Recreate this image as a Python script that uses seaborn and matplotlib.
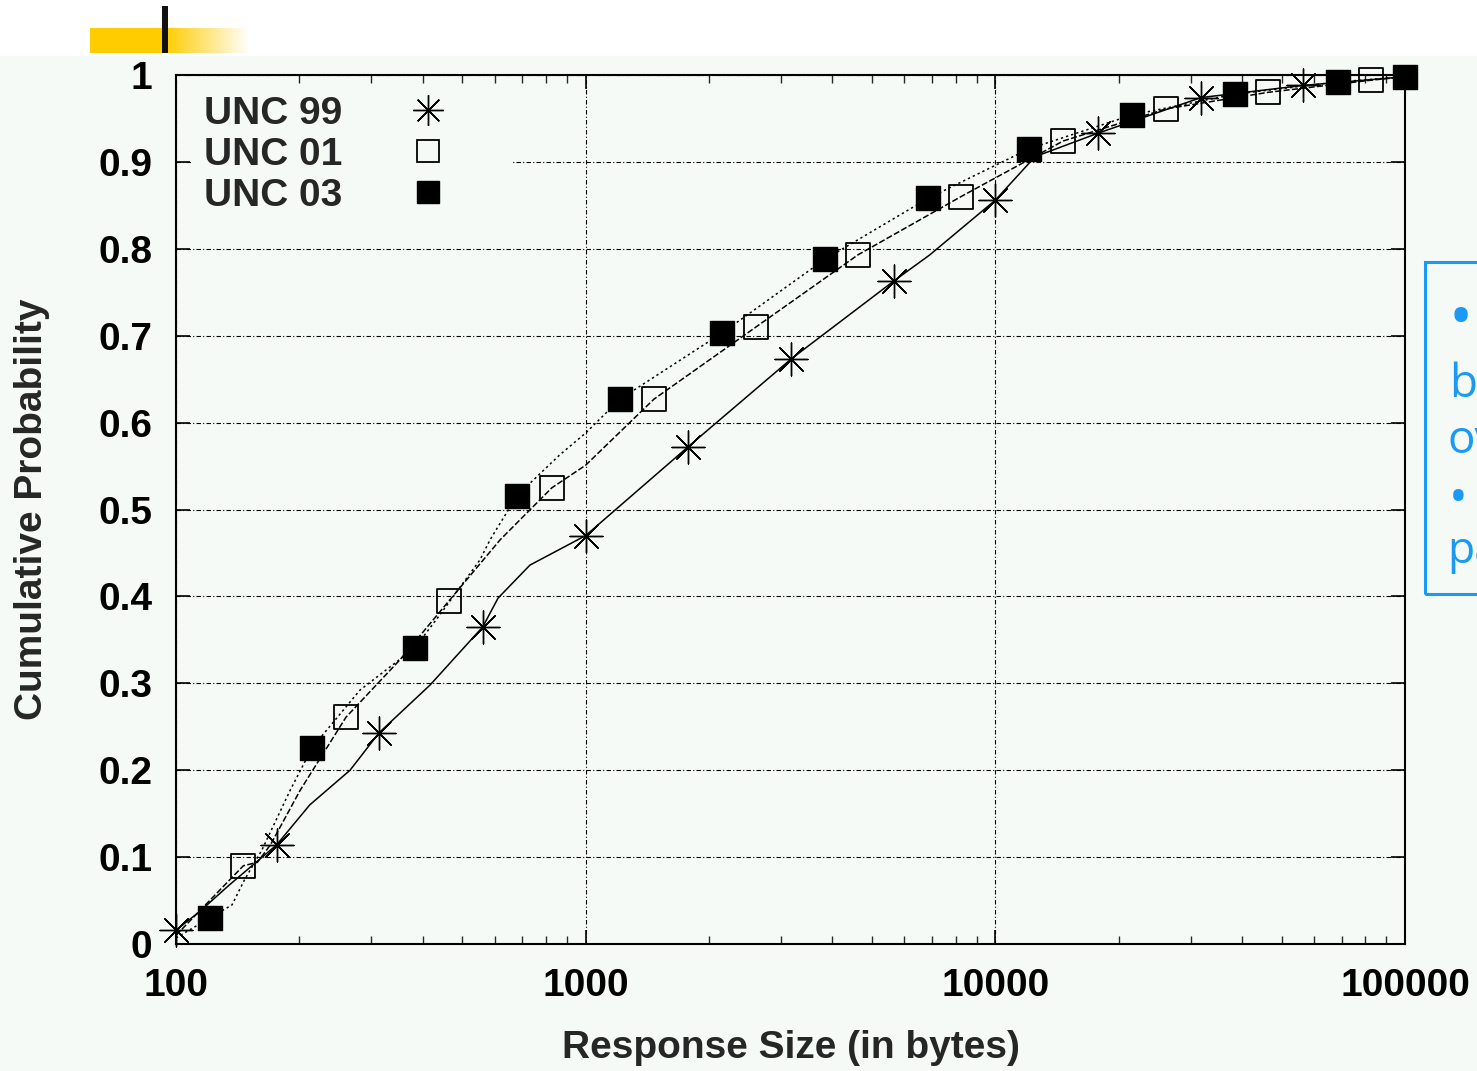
import numpy as np
import pandas as pd
import matplotlib
matplotlib.use("Agg")
import matplotlib.pyplot as plt
from matplotlib.lines import Line2D
from matplotlib.patches import Rectangle
import seaborn as sns

# CDF curves (response size in bytes, cumulative probability)
sizes_99 = [100, 114, 135, 176, 212, 266, 313, 417, 561, 611, 731, 1000, 1777, 3170,
            5655, 6918, 10000, 12500, 17800, 31760, 56360, 100000]
cdf_99 = [0.016, 0.037, 0.068, 0.114, 0.160, 0.200, 0.243, 0.298, 0.365, 0.398, 0.436,
          0.470, 0.572, 0.673, 0.763, 0.793, 0.856, 0.906, 0.933, 0.974, 0.988, 0.998]

sizes_01 = [100, 146, 158, 170, 201, 260, 352, 464, 618, 827, 1000, 1468, 2604, 4619,
            8241, 14630, 26090, 46240, 82550, 100000]
cdf_01 = [0.010, 0.090, 0.094, 0.114, 0.177, 0.261, 0.327, 0.395, 0.465, 0.525, 0.551,
          0.627, 0.710, 0.793, 0.860, 0.924, 0.961, 0.980, 0.994, 0.998]

sizes_03 = [100, 121, 137, 147, 162, 190, 215, 281, 383, 441, 552, 584, 680, 865, 1000,
            1213, 2151, 3838, 6847, 12080, 21550, 38440, 68560, 100000]
cdf_03 = [0.007, 0.030, 0.045, 0.074, 0.108, 0.177, 0.226, 0.292, 0.341, 0.379, 0.442,
          0.465, 0.516, 0.563, 0.588, 0.627, 0.703, 0.788, 0.858, 0.915, 0.954, 0.978,
          0.992, 0.998]

# point markers along each curve
mk_sizes_99 = [100, 176, 313, 561, 1000, 1777, 3170, 5655, 10000, 17800, 31760, 56360]
mk_cdf_99 = [0.016, 0.114, 0.243, 0.365, 0.470, 0.572, 0.673, 0.763, 0.856, 0.933, 0.974, 0.988]

mk_sizes_01 = [146, 260, 464, 827, 1468, 2604, 4619, 8241, 14630, 26090, 46240, 82550]
mk_cdf_01 = [0.090, 0.261, 0.395, 0.525, 0.627, 0.710, 0.793, 0.860, 0.924, 0.961, 0.980, 0.994]

mk_sizes_03 = [121, 215, 383, 680, 1213, 2151, 3838, 6847, 12080, 21550, 38440, 68560, 100000]
mk_cdf_03 = [0.030, 0.226, 0.341, 0.516, 0.627, 0.703, 0.788, 0.858, 0.915, 0.954, 0.978,
             0.992, 0.998]

labels = ["UNC 99", "UNC 01", "UNC 03"]
x_ticks = [100, 1000, 10000, 100000]
y_ticks = [0, 0.1, 0.2, 0.3, 0.4, 0.5, 0.6, 0.7, 0.8, 0.9, 1]
y_tick_labels = ["0", "0.1", "0.2", "0.3", "0.4", "0.5", "0.6", "0.7", "0.8", "0.9", "1"]

BG = "#f5faf7"
BLUE = "#1a9af2"
W, H = 1477, 1071
FS = 28

sns.set_style("ticks")
plt.rcParams["font.family"] = ["Liberation Sans", "DejaVu Sans"]
plt.rcParams["font.weight"] = "bold"
plt.rcParams["axes.labelweight"] = "bold"


def fx(px):
    return px / W


def fy(py):
    return 1 - py / H


fig = plt.figure(figsize=(W / 100, H / 100), dpi=100, facecolor=BG)

# slide header strip
fig.add_artist(Rectangle((0, fy(56)), 1, 1 - fy(56), transform=fig.transFigure,
                         facecolor="white", edgecolor="none", zorder=0))
grad = np.zeros((1, 160, 4))
grad[..., 0] = 1.0
grad[..., 1] = 0.8
alpha = np.ones(160)
alpha[75:] = np.linspace(1, 0, 85)
grad[..., 3] = alpha
gax = fig.add_axes([fx(90), fy(53), 160 / W, 25 / H])
gax.imshow(grad, aspect="auto", interpolation="bilinear")
gax.axis("off")
fig.add_artist(Rectangle((fx(162), fy(53)), 6 / W, 47 / H, transform=fig.transFigure,
                         facecolor="#111111", edgecolor="none", zorder=5))

ax = fig.add_axes([fx(176), fy(944), (1405 - 176) / W, (944 - 75) / H], facecolor=BG)

line_styles = ["-", (0, (4, 1.5)), (0, (1.5, 2))]
curves = [(sizes_99, cdf_99), (sizes_01, cdf_01), (sizes_03, cdf_03)]
for (xs, ys), ls, lab in zip(curves, line_styles, labels):
    df = pd.DataFrame({"size": xs, "cdf": ys})
    sns.lineplot(data=df, x="size", y="cdf", ax=ax, color="black", linestyle=ls,
                 linewidth=1.1, estimator=None, sort=False, zorder=2)

sns.scatterplot(x=mk_sizes_99, y=mk_cdf_99, ax=ax, marker=(8, 2, 0), s=560,
                facecolor="black", edgecolor="black", linewidth=1.0, zorder=4,
                clip_on=False)
sns.scatterplot(x=mk_sizes_01, y=mk_cdf_01, ax=ax, marker="s", s=300,
                facecolor="none", edgecolor="black", linewidth=1.3, zorder=4,
                clip_on=False)
sns.scatterplot(x=mk_sizes_03, y=mk_cdf_03, ax=ax, marker="s", s=300,
                facecolor="black", edgecolor="black", linewidth=1.0, zorder=4,
                clip_on=False)

ax.set_xscale("log")
ax.set_xlim(100, 100000)
ax.set_ylim(0, 1)
ax.set_xticks(x_ticks)
ax.set_xticklabels([str(t) for t in x_ticks])
ax.set_yticks(y_ticks)
ax.set_yticklabels(y_tick_labels)
ax.grid(True, which="major", color="black", linestyle=(0, (4, 2, 1, 2)), linewidth=0.8)
ax.grid(False, which="minor")
ax.tick_params(which="major", direction="in", length=10, width=1.2, top=True, right=True,
               labelsize=FS, pad=17, colors="black")
ax.tick_params(which="minor", direction="in", length=6, width=1.0, top=True, right=True)
for sp in ax.spines.values():
    sp.set_linewidth(1.5)
    sp.set_color("black")
    sp.set_visible(True)

ax.set_xlabel("Response Size (in bytes)", fontsize=FS)
ax.set_ylabel("Cumulative Probability", fontsize=FS)
ax.xaxis.set_label_coords(0.5, (944 - 1048) / 869)
ax.xaxis.label.set_va("center")
ax.yaxis.set_label_coords((32 - 176) / 1229, 0.5)
ax.yaxis.label.set_va("center")

# blank area behind the key, hides the 0.9 grid line there
ax.add_patch(Rectangle((0.012, (944 - 215) / 869), (510 - 190) / 1229, 0.15,
                       transform=ax.transAxes, facecolor=BG, edgecolor="none", zorder=1))

handles = [
    Line2D([], [], marker=(8, 2, 0), markersize=22, color="black", linestyle="none",
           markeredgewidth=1.0),
    Line2D([], [], marker="s", markersize=16, markerfacecolor="none",
           markeredgecolor="black", linestyle="none", markeredgewidth=1.3),
    Line2D([], [], marker="s", markersize=16, color="black", linestyle="none"),
]
leg = ax.legend(handles, labels, loc="upper left", bbox_to_anchor=(0.006, 1.0),
                markerfirst=False, frameon=True, facecolor=BG, edgecolor="none",
                framealpha=1, fancybox=False, prop={"size": FS, "weight": "bold"},
                handlelength=1.0, handletextpad=1.7, labelspacing=0.13,
                borderpad=0.3, borderaxespad=0.23)
leg.set_zorder(5)

# partial side box from the slide
fig.add_artist(Rectangle((fx(1425), fy(594)), 80 / W, (594 - 262) / H,
                         transform=fig.transFigure, facecolor="none",
                         edgecolor=BLUE, linewidth=2.2, zorder=5))
side_kw = dict(color=BLUE, family=["Open Sans", "DejaVu Sans"], weight="normal",
               va="baseline", ha="left")
fig.text(fx(1449), fy(338), "\u2022", fontsize=46, **side_kw)
fig.text(fx(1449), fy(397), "b", fontsize=33, **side_kw)
fig.text(fx(1447), fy(453), "ov", fontsize=33, **side_kw)
fig.text(fx(1449), fy(513), "\u2022", fontsize=36, **side_kw)
fig.text(fx(1447), fy(563), "pa", fontsize=32, **side_kw)

fig.savefig("out.png", dpi=100, facecolor=BG)
